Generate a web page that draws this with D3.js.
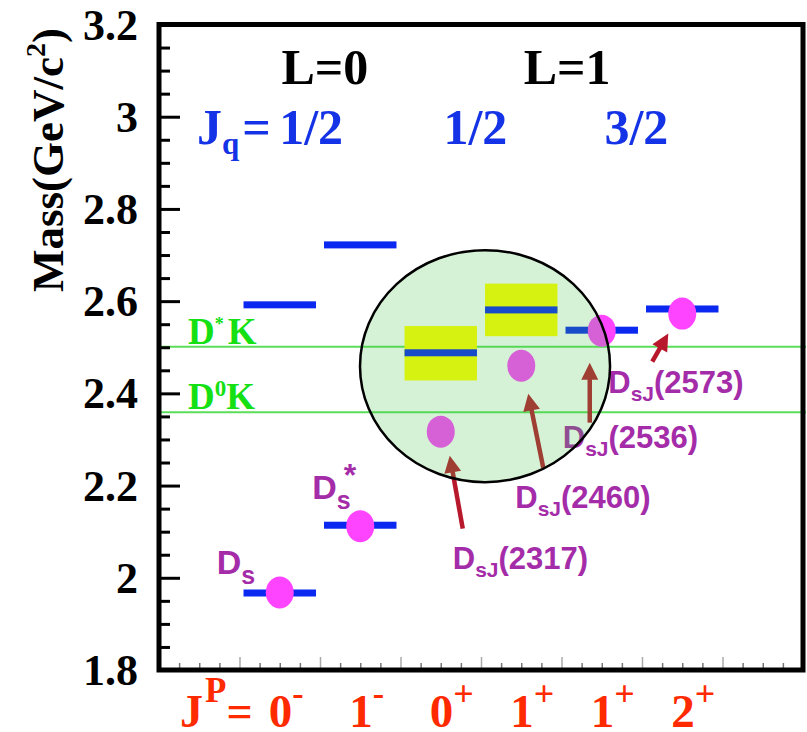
<!DOCTYPE html>
<html>
<head>
<meta charset="utf-8">
<script src="https://cdn.jsdelivr.net/npm/d3@7"></script>
<style>
  body { margin: 0; background: #fff; }
  svg { display: block; }
</style>
</head>
<body>
<div id="chart"></div>
<script>
/******** data ********/
// J^P columns along the x axis
var jpSpin   = ["0", "1", "0", "1", "1", "2"];
var jpParity = ["-", "-", "+", "+", "+", "+"];

// predicted levels (blue bars): column index + mass
var levelCol  = [0, 0, 1, 1, 2, 3, 4, 5];
var levelMass = [1.967, 2.592, 2.114, 2.722, 2.488, 2.581, 2.537, 2.583];

// uncertainty bands (yellow) on the two 1/2 P-wave levels
var bandCol  = [2, 3];
var bandLow  = [2.428, 2.524];
var bandHigh = [2.546, 2.638];

// observed states (circles)
var stateCol  = [0, 1, 2, 3, 4, 5];
var stateMass = [1.968, 2.112, 2.317, 2.460, 2.536, 2.573];
var stateSub  = ["s", "s", "sJ", "sJ", "sJ", "sJ"];
var stateSup  = ["", "*", "", "", "", ""];
var stateTag  = ["", "", "(2317)", "(2460)", "(2536)", "(2573)"];

// thresholds
var thrBase = ["D", "D"];
var thrSup  = ["*", "0"];
var thrMass = [2.501, 2.359];

var yTicks = [1.8, 2, 2.2, 2.4, 2.6, 2.8, 3, 3.2];
var orbitLabels = ["L=0", "L=1"];
var jqLabels = ["1/2", "1/2", "3/2"];

/******** layout ********/
var W = 807, H = 732;
var padL = 159, padT = 24.5, padR = 803, padB = 670;
var serif = "'Liberation Serif', 'Times New Roman', serif";
var sans = "'Liberation Sans', Arial, sans-serif";
var purple = "#a42ca8", blue = "#0a28f0", red = "#ff2a00", arrowCol = "#b8182c";

var x = d3.scaleLinear().domain([0, 8]).range([padL, padR]);
var y = d3.scaleLinear().domain([1.8, 3.2]).range([padB, padT]);
function colX(i) { return x(i + 1.5); }

var svg = d3.select("#chart").append("svg")
    .attr("width", W)
    .attr("height", H);
svg.append("rect").attr("width", W).attr("height", H).attr("fill", "#fff");

/******** threshold lines ********/
svg.selectAll(".thr")
    .data(thrMass)
    .enter()
    .append("line")
    .attr("x1", x(0))
    .attr("x2", x(8) + 3)
    .attr("y1", function(d) { return y(d); })
    .attr("y2", function(d) { return y(d); })
    .attr("stroke", "#5ade5a")
    .attr("stroke-width", 2);

var thrText = svg.selectAll(".thrText")
    .data(thrMass)
    .enter()
    .append("text")
    .attr("x", 188)
    .attr("y", function(d) { return y(d) - 3; })
    .attr("font-family", serif)
    .attr("font-weight", "bold")
    .attr("font-size", 37)
    .attr("fill", "#14e014");
thrText.append("tspan").text(function(d, i) { return thrBase[i]; });
thrText.append("tspan")
    .attr("font-size", function(d, i) { return i == 0 ? 18 : 23; })
    .attr("dy", function(d, i) { return i == 0 ? -14 : -13; })
    .text(function(d, i) { return thrSup[i]; });
thrText.append("tspan")
    .attr("dy", function(d, i) { return i == 0 ? 14 : 13; })
    .attr("dx", function(d, i) { return i == 0 ? 4 : 0; })
    .text("K");

/******** bands and levels ********/
svg.selectAll(".band")
    .data(bandCol)
    .enter()
    .append("rect")
    .attr("x", function(d) { return x(d + 1.5 - 0.45); })
    .attr("width", x(0.9) - x(0))
    .attr("y", function(d, i) { return y(bandHigh[i]); })
    .attr("height", function(d, i) { return y(bandLow[i]) - y(bandHigh[i]); })
    .attr("fill", "#ffff00");

svg.selectAll(".level")
    .data(levelMass)
    .enter()
    .append("rect")
    .attr("x", function(d, i) { return x(levelCol[i] + 1.5 - 0.45); })
    .attr("width", x(0.9) - x(0))
    .attr("y", function(d) { return y(d) - 3.5; })
    .attr("height", 7)
    .attr("fill", blue);

/******** observed states ********/
svg.selectAll(".state")
    .data(stateMass)
    .enter()
    .append("ellipse")
    .attr("cx", function(d, i) { return colX(stateCol[i]); })
    .attr("cy", function(d) { return y(d); })
    .attr("rx", 14)
    .attr("ry", 16)
    .attr("fill", "#ff44ff");

// label offsets from the marker, in pixels
var labelOff = [[-63, -19], [-48, -27], [12, 137], [-6, 142], [-39, 117], [-74, 79]];
var labels = svg.selectAll(".stateLabel")
    .data(stateMass)
    .enter()
    .append("text")
    .attr("x", function(d, i) { return colX(stateCol[i]) + labelOff[i][0]; })
    .attr("y", function(d, i) { return y(d) + labelOff[i][1]; })
    .attr("font-family", sans)
    .attr("font-weight", "bold")
    .attr("fill", purple)
    .attr("font-size", function(d, i) { return i < 2 ? 34 : 31; });
labels.append("tspan").text("D");
labels.append("tspan")
    .attr("font-size", function(d, i) { return i < 2 ? 25 : 21; })
    .attr("dy", function(d, i) { return i < 2 ? 10 : 8; })
    .text(function(d, i) { return stateSub[i]; });
labels.append("tspan")
    .attr("font-size", 32)
    .attr("dx", function(d, i) { return stateSup[i] ? -7 : 0; })
    .attr("dy", function(d, i) { return stateSup[i] ? -23 : 0; })
    .text(function(d, i) { return stateSup[i]; });
labels.append("tspan")
    .attr("dy", function(d, i) { return i < 2 ? 0 : -8; })
    .text(function(d, i) { return stateTag[i]; });

/******** arrows ********/
// [tail dx, tail dy, tip dx, tip dy] relative to the marker
var arrowOff = [null, null, [22, 97, 9, 24], [22, 102, 7, 28], [-12, 92, -12, 32], [-30, 48, -14, 20]];
function arrow(x1, y1, x2, y2) {
    var dx = x2 - x1, dy = y2 - y1;
    var len = Math.sqrt(dx * dx + dy * dy), ux = dx / len, uy = dy / len;
    var hl = 17, hw = 8.5;
    var bx = x2 - ux * hl, by = y2 - uy * hl;
    svg.append("line")
        .attr("x1", x1).attr("y1", y1)
        .attr("x2", bx + ux * 2).attr("y2", by + uy * 2)
        .attr("stroke", arrowCol)
        .attr("stroke-width", 4.5);
    svg.append("path")
        .attr("d", "M" + x2 + "," + y2 +
            "L" + (bx - uy * hw) + "," + (by + ux * hw) +
            "L" + (bx + uy * hw) + "," + (by - ux * hw) + "Z")
        .attr("fill", arrowCol);
}
stateMass.forEach(function(d, i) {
    var o = arrowOff[i];
    if (!o) return;
    var cx = colX(stateCol[i]), cy = y(d);
    arrow(cx + o[0], cy + o[1], cx + o[2], cy + o[3]);
});

/******** header texts ********/
var orbitX = [2.06, 5.07];
svg.selectAll(".orbit")
    .data(orbitLabels)
    .enter()
    .append("text")
    .attr("x", function(d, i) { return x(orbitX[i]); })
    .attr("y", 84)
    .attr("text-anchor", "middle")
    .attr("font-family", serif)
    .attr("font-weight", "bold")
    .attr("font-size", 50)
    .attr("fill", "#000")
    .text(function(d) { return d; });

var jqX = [1.89, 3.93, 5.93];
svg.selectAll(".jq")
    .data(jqLabels)
    .enter()
    .append("text")
    .attr("x", function(d, i) { return x(jqX[i]); })
    .attr("y", 144)
    .attr("text-anchor", "middle")
    .attr("font-family", serif)
    .attr("font-weight", "bold")
    .attr("font-size", 50)
    .attr("fill", "#1432e6")
    .text(function(d) { return d; });
var jq = svg.append("text")
    .attr("x", 197)
    .attr("y", 144)
    .attr("font-family", serif)
    .attr("font-weight", "bold")
    .attr("font-size", 50)
    .attr("fill", "#1432e6");
jq.append("tspan").text("J");
jq.append("tspan").attr("font-size", 31).attr("dy", 10).text("q");
jq.append("tspan").attr("dy", -10).attr("dx", 3).text("=");

/******** axes ********/
var minorY = d3.range(36, 65).filter(function(k) { return k % 4 != 0; })
    .map(function(k) { return k / 20; });
var minorX = d3.range(1, 32).filter(function(k) { return k % 4 != 0; })
    .map(function(k) { return k / 4; });

svg.append("g")
    .attr("transform", "translate(" + padL + ",0)")
    .call(d3.axisLeft(y).tickValues(minorY).tickSize(-11).tickFormat(""))
    .call(function(g) {
        g.select(".domain").remove();
        g.selectAll("line").attr("stroke-width", 3);
    });

svg.append("g")
    .attr("transform", "translate(" + padL + ",0)")
    .call(d3.axisLeft(y).tickValues(yTicks).tickSize(-21).tickPadding(21)
        .tickFormat(d3.format("~g")))
    .call(function(g) {
        g.select(".domain").remove();
        g.selectAll("line").attr("stroke-width", 3);
        g.selectAll("text")
            .attr("font-family", serif)
            .attr("font-weight", "bold")
            .attr("font-size", 44)
            .attr("fill", "#000")
            .attr("dy", "0.33em");
    });

svg.append("g")
    .attr("transform", "translate(0," + padB + ")")
    .call(d3.axisBottom(x).tickValues(minorX).tickSize(-7).tickFormat(""))
    .call(function(g) {
        g.select(".domain").remove();
        g.selectAll("line").attr("stroke", "#777").attr("stroke-width", 1.5);
    });
svg.append("g")
    .attr("transform", "translate(0," + padB + ")")
    .call(d3.axisBottom(x).tickValues(d3.range(1, 8)).tickSize(-13).tickFormat(""))
    .call(function(g) {
        g.select(".domain").remove();
        g.selectAll("line").attr("stroke", "#aaa").attr("stroke-width", 1.5);
    });

svg.append("rect")
    .attr("x", padL)
    .attr("y", padT)
    .attr("width", padR - padL)
    .attr("height", padB - padT)
    .attr("fill", "none")
    .attr("stroke", "#000")
    .attr("stroke-width", 5);

// y title
var yt = svg.append("text")
    .attr("transform", "translate(63,160) rotate(-90)")
    .attr("text-anchor", "middle")
    .attr("font-family", serif)
    .attr("font-weight", "bold")
    .attr("font-size", 45)
    .attr("fill", "#000");
yt.append("tspan").text("Mass(GeV/c");
yt.append("tspan").attr("font-size", 28).attr("dy", -18).text("2");
yt.append("tspan").attr("dy", 18).text(")");

// x labels: J^P
var jp = svg.append("text")
    .attr("x", 180)
    .attr("y", 727)
    .attr("font-family", serif)
    .attr("font-weight", "bold")
    .attr("font-size", 46)
    .attr("fill", red);
jp.append("tspan").text("J");
jp.append("tspan").attr("font-size", 35).attr("dy", -25).attr("dx", 2).text("P");
jp.append("tspan").attr("dy", 25).text("=");

var jpText = svg.selectAll(".jp")
    .data(jpSpin)
    .enter()
    .append("text")
    .attr("x", function(d, i) { return colX(i) - 11; })
    .attr("y", 727)
    .attr("font-family", serif)
    .attr("font-weight", "bold")
    .attr("font-size", 47)
    .attr("fill", red);
jpText.append("tspan").text(function(d) { return d; });
jpText.append("tspan")
    .attr("font-size", function(d, i) { return jpParity[i] == "+" ? 36 : 34; })
    .attr("dy", function(d, i) { return jpParity[i] == "+" ? -21 : -22; })
    .text(function(d, i) { return jpParity[i]; });

/******** highlighted region ********/
svg.append("ellipse")
    .attr("cx", x(4.05))
    .attr("cy", y(2.459))
    .attr("rx", x(1.553) - x(0))
    .attr("ry", y(1.8) - y(2.0516))
    .attr("fill", "rgb(73,197,73)")
    .attr("fill-opacity", 0.225)
    .attr("stroke", "#000")
    .attr("stroke-width", 2.5);
</script>
</body>
</html>
